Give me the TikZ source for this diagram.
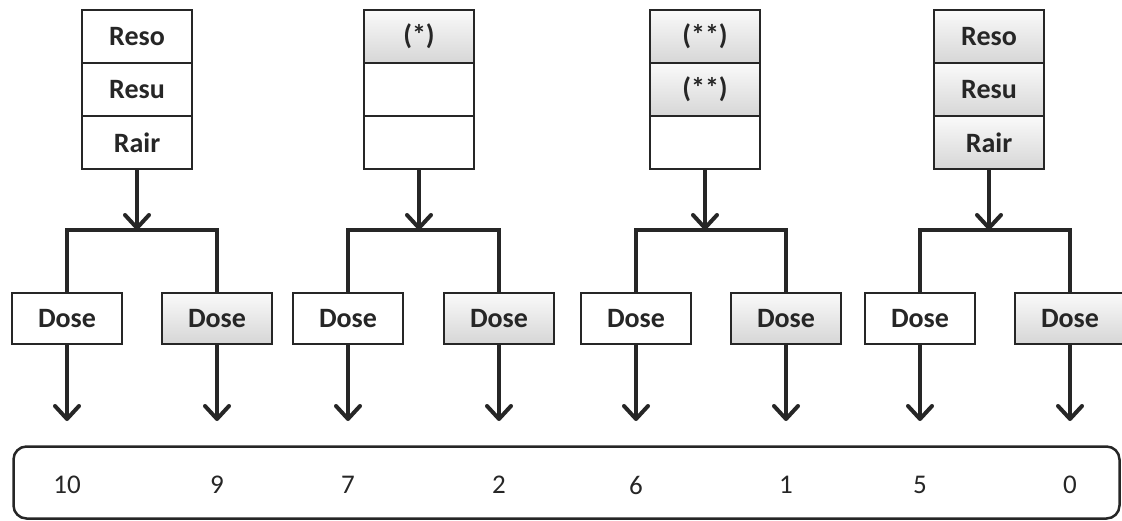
\documentclass[tikz,border=0pt]{standalone}
\usepackage{fontspec}
\setmainfont{Carlito}
\usetikzlibrary{arrows.meta}

\definecolor{inkgray}{HTML}{262626}

\tikzset{
  cell/.style={draw=inkgray, line width=2.5pt, minimum width=110pt, minimum height=53pt,
    inner sep=0pt, text=inkgray, font=\bfseries\fontsize{28}{30}\selectfont},
  shadedcell/.style={cell, top color=gray!4, bottom color=gray!32},
  dosebox/.style={cell, minimum height=51pt},
  shadeddose/.style={dosebox, top color=gray!4, bottom color=gray!32},
  branch/.style={draw=inkgray, line width=4pt},
  flow/.style={branch, -{Straight Barb[length=13pt,width=24pt,round]}},
  score/.style={text=inkgray, font=\fontsize{27}{30}\selectfont}
}

\begin{document}
\begin{tikzpicture}[x=1pt,y=-1pt]
  \useasboundingbox (0,0) rectangle (1122,521);

  % first group
  \node[cell] (s1a) at (137,36.5) {Reso};
  \node[cell] (s1b) at (137,89.5) {Resu};
  \node[cell] (s1c) at (137,142.5) {Rair};
  \coordinate (j1) at (137,230);
  \node[dosebox] (d1a) at (67,318.5) {Dose};
  \node[shadeddose] (d1b) at (217,318.5) {Dose};
  \draw[branch] (d1a.north) |- (j1) -| (d1b.north);
  \draw[flow] (s1c.south) -- (j1);

  % second group
  \node[shadedcell] (s2a) at (419,36.5) {(*)};
  \node[cell] (s2b) at (419,89.5) {};
  \node[cell] (s2c) at (419,142.5) {};
  \coordinate (j2) at (419,230);
  \node[dosebox] (d2a) at (348,318.5) {Dose};
  \node[shadeddose] (d2b) at (499,318.5) {Dose};
  \draw[branch] (d2a.north) |- (j2) -| (d2b.north);
  \draw[flow] (s2c.south) -- (j2);

  % third group
  \node[shadedcell] (s3a) at (705,36.5) {(**)};
  \node[shadedcell] (s3b) at (705,89.5) {(**)};
  \node[cell] (s3c) at (705,142.5) {};
  \coordinate (j3) at (705,230);
  \node[dosebox] (d3a) at (636,318.5) {Dose};
  \node[shadeddose] (d3b) at (786,318.5) {Dose};
  \draw[branch] (d3a.north) |- (j3) -| (d3b.north);
  \draw[flow] (s3c.south) -- (j3);

  % fourth group
  \node[shadedcell] (s4a) at (989,36.5) {Reso};
  \node[shadedcell] (s4b) at (989,89.5) {Resu};
  \node[shadedcell] (s4c) at (989,142.5) {Rair};
  \coordinate (j4) at (989,230);
  \node[dosebox] (d4a) at (920,318.5) {Dose};
  \node[shadeddose] (d4b) at (1070,318.5) {Dose};
  \draw[branch] (d4a.north) |- (j4) -| (d4b.north);
  \draw[flow] (s4c.south) -- (j4);

  % results
  \node[draw=inkgray, line width=2.5pt, rounded corners=13pt, minimum width=1106pt,
    minimum height=72pt] (scores) at (566.5,482.5) {};
  \node[score] (n1a) at (67,485) {10};
  \node[score] (n1b) at (217,485) {9};
  \node[score] (n2a) at (348,485) {7};
  \node[score] (n2b) at (499,485) {2};
  \node[score] (n3a) at (636,485) {6};
  \node[score] (n3b) at (786,485) {1};
  \node[score] (n4a) at (920,485) {5};
  \node[score] (n4b) at (1070,485) {0};

  \coordinate (e1a) at (67,421);
  \coordinate (e1b) at (217,421);
  \coordinate (e2a) at (348,421);
  \coordinate (e2b) at (499,421);
  \coordinate (e3a) at (636,421);
  \coordinate (e3b) at (786,421);
  \coordinate (e4a) at (920,421);
  \coordinate (e4b) at (1070,421);
  \draw[flow] (d1a.south) -- (e1a);
  \draw[flow] (d1b.south) -- (e1b);
  \draw[flow] (d2a.south) -- (e2a);
  \draw[flow] (d2b.south) -- (e2b);
  \draw[flow] (d3a.south) -- (e3a);
  \draw[flow] (d3b.south) -- (e3b);
  \draw[flow] (d4a.south) -- (e4a);
  \draw[flow] (d4b.south) -- (e4b);
\end{tikzpicture}
\end{document}
